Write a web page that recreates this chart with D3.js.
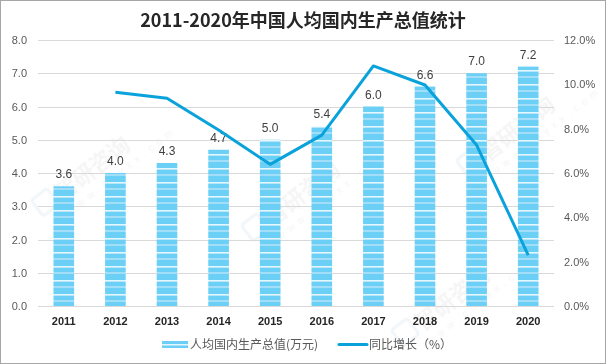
<!DOCTYPE html>
<html><head><meta charset="utf-8">
<script src="https://cdn.jsdelivr.net/npm/d3@7"></script>
<style>
html,body{margin:0;padding:0;background:#fff;}
svg{display:block;}
</style></head>
<body>
<svg id="c" width="606" height="364"></svg>
<script>
const years = ["2011","2012","2013","2014","2015","2016","2017","2018","2019","2020"];
const gdpPerCapita = [3.6, 4.0, 4.3, 4.7, 5.0, 5.4, 6.0, 6.6, 7.0, 7.2];
const growth = [null, 9.64, 9.37, 7.94, 6.39, 7.71, 10.83, 9.97, 7.26, 2.3];
const leftTicks = [0,1,2,3,4,5,6,7,8];
const rightTicks = [0,2,4,6,8,10,12];
const title = "2011-2020年中国人均国内生产总值统计";
const legendBar = "人均国内生产总值(万元)";
const legendLine = "同比增长（%）";

(function(){
const svg = d3.select("#c");
const W = 606, H = 364;
const pl = 38, pr = 554, pt = 40, pb = 306;

const defs = svg.append("defs");
const pat = defs.append("pattern").attr("id","stripes").attr("patternUnits","userSpaceOnUse")
  .attr("width",10).attr("height",14).attr("y", 0);
pat.append("rect").attr("width",10).attr("height",14).attr("fill","#6ccff6");
pat.append("rect").attr("y",0).attr("width",10).attr("height",1.6).attr("fill","#e6f6fd");
pat.append("rect").attr("y",6).attr("width",10).attr("height",2).attr("fill","#a3def8");

svg.append("rect").attr("x",0.5).attr("y",0.5).attr("width",W-1).attr("height",H-1)
  .attr("fill","#fff").attr("stroke","#a6a6a6").attr("stroke-width",1);

// faint watermark
const wm = svg.append("g").attr("opacity",0.35);
const wmPos = [[45,215],[255,240],[405,345],[470,175]];
wmPos.forEach(([x,y])=>{
  const g = wm.append("g").attr("transform",`translate(${x},${y}) rotate(-38)`);
  g.append("rect").attr("x",-2).attr("y",-20).attr("width",20).attr("height",20).attr("rx",3)
    .attr("fill","none").attr("stroke","#d8e4ee").attr("stroke-width",3);
  g.append("text").attr("x",22).attr("y",0).attr("font-size",22).attr("font-weight","bold")
    .attr("font-family","Noto Sans CJK SC").attr("fill","#e2e2e2").text("智研咨询");
  g.append("text").attr("x",20).attr("y",16).attr("font-size",10).attr("letter-spacing",5)
    .attr("font-family","Liberation Sans").attr("fill","#e2e2e2").text("www.chyxx.com");
});

const x = d3.scaleBand().domain(years).range([pl,pr]).paddingInner(0.6).paddingOuter(0.3);
const yL = d3.scaleLinear().domain([0,8]).range([pb,pt]);
const yR = d3.scaleLinear().domain([0,12]).range([pb,pt]);

// gridlines
svg.append("g").selectAll("line").data(leftTicks).join("line")
  .attr("x1",pl).attr("x2",pr).attr("y1",d=>Math.round(yL(d))+0.5).attr("y2",d=>Math.round(yL(d))+0.5)
  .attr("stroke","#d9d9d9").attr("stroke-width",1);

// left axis
const ax = d3.axisLeft(yL).tickValues(leftTicks).tickFormat(d3.format(".1f")).tickSize(0).tickPadding(0);
const gL = svg.append("g").attr("transform",`translate(27,0)`).call(ax);
gL.select(".domain").remove();
gL.selectAll("text").attr("font-size",11).attr("font-family","Liberation Sans").attr("fill","#595959");

const axR = d3.axisRight(yR).tickValues(rightTicks).tickFormat(d=>d3.format(".1f")(d)+"%").tickSize(0).tickPadding(0);
const gR = svg.append("g").attr("transform",`translate(564,0)`).call(axR);
gR.select(".domain").remove();
gR.selectAll("text").attr("font-size",11).attr("font-family","Liberation Sans").attr("fill","#595959");

// x axis
const axB = d3.axisBottom(x).tickSize(0).tickPadding(0);
const gB = svg.append("g").attr("transform",`translate(0,317)`).call(axB);
gB.select(".domain").remove();
gB.selectAll("text").attr("font-size",11).attr("font-weight","bold").attr("font-family","Liberation Sans").attr("fill","#262626");

// bars
svg.append("g").selectAll("rect").data(years).join("rect")
  .attr("x",d=>x(d)).attr("width",x.bandwidth())
  .attr("y",(d,i)=>yL(gdpPerCapita[i])).attr("height",(d,i)=>pb-yL(gdpPerCapita[i]))
  .attr("fill","url(#stripes)");

// bar labels
svg.append("g").selectAll("text").data(years).join("text")
  .attr("x",d=>x(d)+x.bandwidth()/2).attr("y",(d,i)=>yL(gdpPerCapita[i])-8)
  .attr("text-anchor","middle").attr("font-size",12).attr("font-family","Liberation Sans").attr("fill","#404040")
  .text((d,i)=>gdpPerCapita[i].toFixed(1));

// line
const lineData = years.map((d,i)=>({d, v:growth[i]})).filter(p=>p.v!=null);
svg.append("path").datum(lineData)
  .attr("d", d3.line().x(p=>x(p.d)+x.bandwidth()/2).y(p=>yR(p.v)))
  .attr("fill","none").attr("stroke","#0aa2db").attr("stroke-width",3).attr("stroke-linejoin","round");

// title
svg.append("text").attr("x",W/2).attr("y",27).attr("text-anchor","middle")
  .attr("font-size",18).attr("font-weight","bold").attr("font-family","Noto Sans CJK SC").attr("fill","#262626")
  .text(title);

// legend
const lg = svg.append("g");
const lx = 162, ly = 344.5;
lg.append("rect").attr("x",lx).attr("y",ly-3.5).attr("width",26).attr("height",7).attr("fill","#6ccff6");
lg.append("rect").attr("x",lx).attr("y",ly-0.5).attr("width",26).attr("height",1.5).attr("fill","#e6f6fd");
lg.append("text").attr("x",lx+28).attr("y",ly+4.3).attr("font-size",12).attr("font-family","Noto Sans CJK SC").attr("fill","#595959").text(legendBar);
const l2 = 339;
lg.append("line").attr("x1",l2).attr("x2",l2+28).attr("y1",ly).attr("y2",ly).attr("stroke","#0aa2db").attr("stroke-width",3).attr("stroke-linecap","round");
lg.append("text").attr("x",l2+30).attr("y",ly+4.3).attr("font-size",12).attr("font-family","Noto Sans CJK SC").attr("fill","#595959").text(legendLine);
})();
</script>
</body></html>
